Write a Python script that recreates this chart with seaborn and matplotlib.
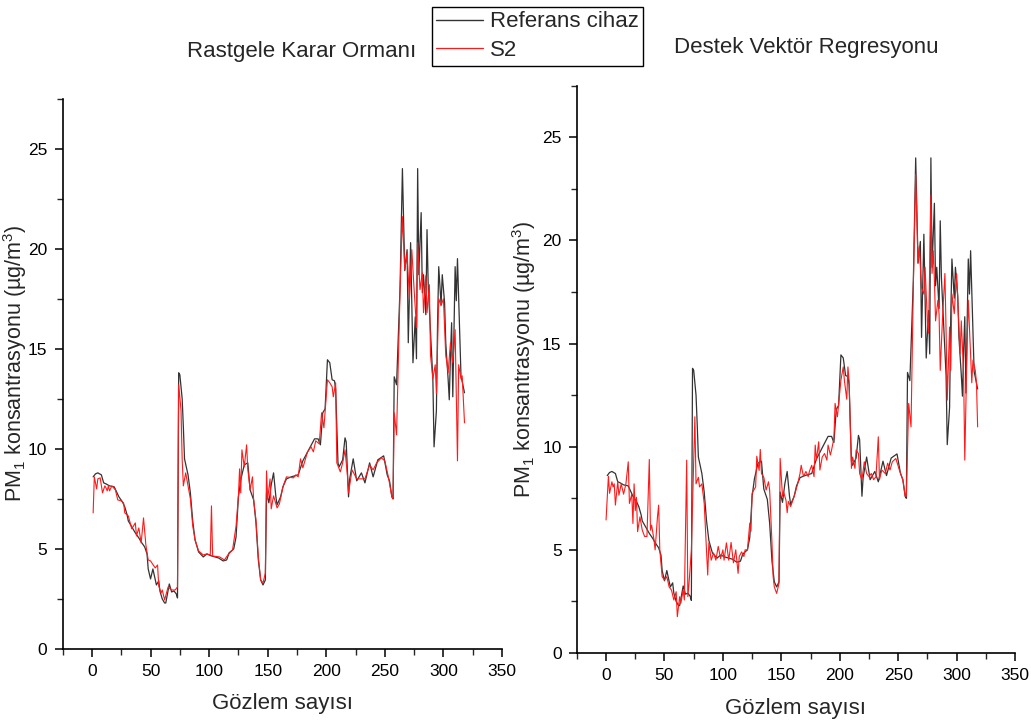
import numpy as np
import pandas as pd
import seaborn as sns
import matplotlib.pyplot as plt
from matplotlib.lines import Line2D
from matplotlib.ticker import MultipleLocator

# ---------------- data ----------------
ref_x = [1, 3, 5, 8, 10, 12, 15, 19, 21, 23, 26, 28, 30, 31, 34, 37, 40, 42, 45, 47,
         48, 50, 52, 55, 57, 58, 60, 62, 63, 66, 68, 70, 72, 73, 74, 75, 77, 78, 79, 81,
         82, 84, 86, 88, 91, 95, 98, 102, 108, 112, 115, 117, 121, 123, 125, 127, 130, 133, 135, 138,
         140, 142, 144, 146, 148, 149, 151, 153, 155, 157, 158, 161, 163, 166, 170, 176, 180, 185, 190, 193,
         195, 197, 199, 201, 203, 205, 207, 208, 210, 211, 214, 216, 217, 219, 220, 223, 226, 230, 233, 237,
         240, 244, 249, 252, 254, 256, 257, 258, 260, 263, 265, 267, 269, 270, 272, 274, 276, 277, 278, 279,
         281, 282, 283, 285, 286, 287, 289, 291, 292, 294, 295, 296, 298, 299, 301, 302, 304, 305, 306, 307,
         308, 310, 311, 312, 314, 315, 318]
ref_y = [8.6, 8.75, 8.8, 8.7, 8.3, 8.25, 8.15, 8.1, 7.85, 7.6, 7.35, 7.1, 6.7, 6.4, 6.1, 5.8, 5.55, 5.35, 5.1, 4.75,
         4.0, 3.5, 4.0, 3.2, 3.4, 2.9, 2.5, 2.3, 2.3, 3.25, 2.85, 2.9, 2.75, 2.55, 13.8, 13.7, 12.5, 11.1, 9.5, 8.95,
         8.7, 7.8, 6.4, 5.45, 4.85, 4.6, 4.75, 4.65, 4.55, 4.4, 4.45, 4.8, 5.0, 5.6, 7.6, 8.45, 9.2, 9.3, 7.95, 7.45,
         6.3, 4.45, 3.45, 3.2, 3.45, 7.8, 7.3, 8.2, 8.8, 7.6, 7.2, 7.6, 8.1, 8.5, 8.6, 8.7, 9.4, 9.95, 10.5, 10.5,
         10.2, 11.8, 12.0, 14.45, 14.3, 13.45, 13.4, 13.0, 9.3, 9.1, 9.45, 10.55, 10.35, 7.6, 8.5, 9.5, 8.4, 8.8, 8.3, 9.3,
         8.6, 9.45, 9.65, 8.7, 8.4, 7.6, 7.5, 13.6, 13.2, 18.1, 24.0, 18.9, 19.95, 15.3, 20.3, 14.3, 16.6, 14.5, 24.0, 18.7,
         21.8, 17.8, 18.7, 16.7, 20.95, 18.2, 15.85, 13.45, 10.1, 11.9, 16.3, 19.1, 17.2, 18.7, 17.3, 15.3, 13.5, 12.45, 14.65, 16.3,
         12.6, 19.1, 17.4, 19.5, 15.6, 13.65, 12.8]

rf_x = [1, 2, 4, 5, 7, 9, 11, 12, 13, 14, 15, 17, 20, 22, 25, 27, 28, 31, 34, 37,
        38, 40, 42, 44, 46, 48, 50, 54, 56, 57, 59, 60, 62, 65, 68, 71, 73, 74, 76, 77,
        78, 80, 82, 84, 86, 88, 91, 95, 98, 101, 102, 103, 109, 113, 116, 120, 123, 125, 126, 127,
        128, 130, 132, 133, 135, 137, 138, 140, 142, 144, 146, 148, 149, 150, 152, 153, 155, 158, 160, 163,
        166, 172, 174, 176, 178, 180, 184, 187, 189, 191, 194, 196, 198, 201, 203, 205, 206, 208, 209, 212,
        214, 216, 218, 219, 222, 226, 230, 233, 237, 240, 243, 247, 250, 253, 256, 257, 258, 260, 263, 265,
        267, 269, 271, 273, 275, 277, 278, 280, 282, 283, 285, 286, 288, 289, 291, 293, 294, 296, 298, 300,
        302, 303, 304, 306, 308, 310, 312, 313, 315, 316, 318]
rf_y = [6.8, 8.6, 8.0, 8.5, 8.55, 7.8, 8.15, 8.05, 7.9, 8.15, 7.9, 8.15, 7.95, 7.45, 7.4, 7.3, 6.8, 6.65, 6.0, 6.3,
        5.65, 6.05, 5.3, 6.55, 5.2, 4.45, 4.4, 4.05, 4.2, 3.15, 2.8, 2.95, 2.45, 3.1, 2.95, 2.95, 3.1, 13.2, 11.95, 9.45,
        8.15, 8.8, 8.15, 7.5, 6.15, 5.45, 4.9, 4.7, 4.75, 4.7, 7.15, 4.65, 4.6, 4.45, 4.7, 4.95, 6.15, 7.65, 9.0, 7.8,
        9.95, 9.1, 10.2, 9.0, 7.95, 8.6, 7.45, 6.45, 4.6, 3.45, 3.3, 3.8, 8.9, 7.5, 8.5, 7.0, 7.65, 7.05, 7.25, 8.1,
        8.6, 8.55, 8.7, 8.6, 9.5, 9.05, 9.85, 10.1, 9.85, 10.4, 10.25, 11.8, 11.05, 13.45, 13.3, 13.1, 12.6, 13.3, 9.3, 8.85,
        9.3, 9.95, 8.7, 7.8, 8.95, 8.5, 8.5, 8.5, 9.2, 8.95, 9.3, 9.55, 9.4, 8.6, 7.6, 7.5, 11.8, 10.7, 17.95, 21.6,
        18.95, 19.8, 17.45, 19.95, 17.95, 16.05, 20.3, 17.95, 18.8, 16.8, 18.65, 16.8, 18.2, 14.65, 13.5, 14.2, 12.75, 17.5, 17.15, 17.5,
        14.65, 14.3, 13.8, 15.3, 14.3, 15.95, 9.4, 14.2, 13.5, 13.65, 11.3]

svr_x = [0, 2, 3, 5, 6, 7, 8, 10, 11, 13, 15, 17, 19, 20, 22, 23, 24, 25, 26, 27,
         29, 31, 33, 35, 37, 38, 39, 41, 42, 44, 45, 46, 48, 50, 52, 54, 56, 58, 60, 61,
         63, 64, 66, 67, 69, 70, 71, 73, 75, 76, 77, 79, 80, 82, 84, 85, 87, 88, 90, 92,
         94, 96, 98, 100, 101, 103, 105, 107, 109, 111, 113, 114, 116, 118, 119, 121, 123, 124, 125, 128,
         129, 131, 132, 133, 135, 137, 139, 140, 142, 143, 144, 146, 148, 149, 151, 152, 154, 155, 156, 158,
         161, 164, 166, 167, 169, 171, 173, 174, 176, 178, 179, 180, 182, 183, 185, 187, 189, 190, 192, 193,
         195, 196, 198, 201, 203, 204, 206, 207, 208, 210, 211, 213, 214, 216, 217, 219, 221, 223, 225, 227,
         229, 231, 233, 234, 236, 239, 241, 243, 245, 248, 251, 254, 256, 257, 259, 261, 263, 265, 267, 268,
         270, 272, 273, 275, 276, 278, 279, 280, 281, 282, 284, 285, 286, 288, 290, 291, 292, 294, 295, 296,
         298, 300, 302, 303, 304, 306, 307, 309, 310, 312, 313, 314, 316, 317, 318]
svr_y = [6.45, 8.57, 7.74, 8.3, 8.05, 8.2, 7.17, 8.3, 7.65, 8.2, 7.7, 8.2, 9.27, 7.25, 7.7, 6.28, 8.2, 6.9, 7.55, 5.88,
         6.6, 5.95, 5.65, 5.65, 9.38, 5.95, 6.2, 5.5, 5.0, 6.6, 7.17, 5.0, 3.7, 3.54, 3.7, 3.2, 3.05, 2.57, 2.97, 1.76,
         2.73, 2.41, 3.05, 2.57, 9.35, 2.73, 3.37, 4.99, 9.35, 11.45, 8.2, 8.52, 8.05, 8.2, 7.25, 6.12, 3.78, 5.34, 4.5, 4.85,
         4.5, 5.17, 4.58, 5.0, 4.5, 5.34, 4.5, 5.36, 4.37, 5.0, 3.86, 4.68, 4.9, 4.68, 5.0, 5.0, 6.3, 5.9, 7.75, 8.05,
         9.54, 8.85, 9.87, 8.7, 8.52, 7.9, 8.3, 7.9, 5.34, 3.7, 3.2, 2.89, 3.37, 9.43, 7.6, 7.8, 7.4, 6.8, 7.35, 7.1,
         7.6, 8.2, 8.7, 9.1, 8.55, 8.8, 8.55, 8.8, 9.1, 8.55, 10.08, 9.35, 10.24, 8.87, 9.5, 9.67, 9.35, 10.08, 9.6, 9.84,
         10.4, 12.1, 11.45, 13.23, 13.87, 13.2, 12.3, 13.87, 13.2, 8.95, 9.5, 8.95, 9.84, 9.67, 8.7, 8.4, 9.27, 8.7, 8.55, 8.7,
         8.4, 8.55, 10.48, 8.4, 8.87, 8.7, 9.2, 8.87, 9.27, 9.43, 8.87, 8.4, 7.6, 7.6, 12.1, 10.96, 17.9, 23.2, 18.9, 19.7,
         17.7, 17.4, 18.7, 16.1, 15.5, 22.2, 18.4, 19.5, 18.1, 16.1, 17.1, 16.45, 13.7, 16.3, 18.4, 15.6, 12.26, 15.8, 13.7, 17.4,
         16.45, 18.4, 15.8, 14.5, 16.1, 13.55, 9.35, 15.0, 17.1, 14.35, 13.1, 14.2, 13.7, 13.1, 10.96]

panel_titles = ["Rastgele Karar Ormanı", "Destek Vektör Regresyonu"]
series_labels = ["Referans cihaz", "S2"]

ref_color = "#333333"
s2_color = "#ff1a1a"

# ---------------- style ----------------
sns.set_style("ticks")
plt.rcParams["font.family"] = ["Liberation Sans", "DejaVu Sans"]
plt.rcParams["mathtext.fontset"] = "custom"
plt.rcParams["mathtext.rm"] = "Liberation Sans"
plt.rcParams["mathtext.it"] = "Liberation Sans"
plt.rcParams["mathtext.default"] = "regular"

fig = plt.figure(figsize=(10.31, 7.25), dpi=100)
ax1 = fig.add_axes([0.0608, 0.1048, 0.4261, 0.7593])
ax2 = fig.add_axes([0.5595, 0.0993, 0.4250, 0.7825])

ref_df = pd.DataFrame({"x": ref_x, "y": ref_y})
rf_df = pd.DataFrame({"x": rf_x, "y": rf_y})
svr_df = pd.DataFrame({"x": svr_x, "y": svr_y})

for ax, pred_df in [(ax1, rf_df), (ax2, svr_df)]:
    sns.lineplot(data=ref_df, x="x", y="y", ax=ax, color=ref_color,
                 linewidth=0.9, estimator=None, sort=False)
    sns.lineplot(data=pred_df, x="x", y="y", ax=ax, color=s2_color,
                 linewidth=0.8, estimator=None, sort=False)
    ax.set_xlim(-25, 350)
    ax.set_ylim(0, 27.5)
    ax.xaxis.set_major_locator(MultipleLocator(50))
    ax.xaxis.set_minor_locator(MultipleLocator(25))
    ax.yaxis.set_major_locator(MultipleLocator(5))
    ax.yaxis.set_minor_locator(MultipleLocator(2.5))
    ax.tick_params(which="major", direction="out", length=6, width=1.1,
                   labelsize=12.5, colors="black", pad=5)
    ax.tick_params(which="minor", direction="out", length=4, width=1.0)
    for s in ["top", "right"]:
        ax.spines[s].set_visible(False)
    for s in ["left", "bottom"]:
        ax.spines[s].set_linewidth(1.2)
        ax.spines[s].set_color("black")
    ax.set_xlabel("Gözlem sayısı", fontsize=16)
    ax.set_ylabel("PM$_1$ konsantrasyonu (µg/m$^3$)", fontsize=15.5)
    ax.xaxis.set_label_coords(0.5, -0.080)

ax1.yaxis.set_label_coords(-0.0756, 0.52)
ax2.yaxis.set_label_coords(-0.088, 0.517)

fig.text(302 / 1031, 1 - 52 / 725, panel_titles[0], fontsize=16,
         ha="center", va="center")
fig.text(806 / 1031, 1 - 47 / 725, panel_titles[1], fontsize=16,
         ha="center", va="center")

handles = [Line2D([], [], color=ref_color, linewidth=1.0),
           Line2D([], [], color=s2_color, linewidth=0.9)]
leg = fig.legend(handles, series_labels, loc="upper left",
                 bbox_to_anchor=(432 / 1031, 1 - 7 / 725), fontsize=16,
                 frameon=True, fancybox=False, framealpha=1, edgecolor="black",
                 borderpad=0.2, handlelength=2.1, handletextpad=0.3,
                 labelspacing=0.35, borderaxespad=0)
leg.get_frame().set_linewidth(1.0)

plt.savefig("out.png", dpi=100)
